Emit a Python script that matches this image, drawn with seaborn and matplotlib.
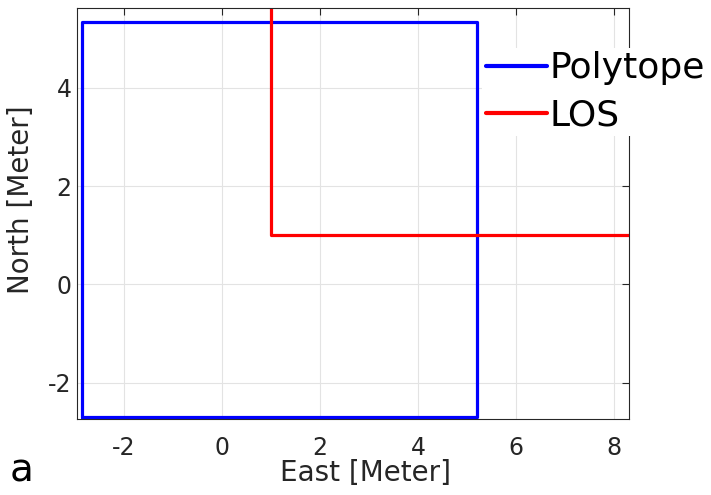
import matplotlib
matplotlib.use("Agg")
import matplotlib.pyplot as plt
import seaborn as sns
import pandas as pd
from matplotlib.lines import Line2D

# Data
polytope_east = [-2.85, 5.2, 5.2, -2.85, -2.85]
polytope_north = [-2.7, -2.7, 5.33, 5.33, -2.7]
los_east = [1.0, 1.0, 8.6]
los_north = [6.0, 1.0, 1.0]
x_ticks = [-2, 0, 2, 4, 6, 8]
y_ticks = [-2, 0, 2, 4]
series_names = ["Polytope", "LOS"]
series_colors = ["#0000ff", "#ff0000"]

sns.set_style("white")
plt.rcParams["font.family"] = ["DejaVu Sans"]
plt.rcParams["axes.unicode_minus"] = False

fig = plt.figure(figsize=(7.11, 4.95), dpi=100)
ax = fig.add_axes([77/711, 1-419/495, (629-77)/711, (419-7.7)/495])

df = pd.concat([
    pd.DataFrame({"East": polytope_east, "North": polytope_north, "name": series_names[0]}),
    pd.DataFrame({"East": los_east, "North": los_north, "name": series_names[1]}),
])

sns.lineplot(data=df, x="East", y="North", hue="name", units="name", estimator=None,
             sort=False, palette=series_colors, hue_order=series_names, linewidth=2.3, ax=ax,
             legend=False)

ax.set_xlim(-2.95, 8.3)
ax.set_ylim(-2.74, 5.63)
ax.set_xticks(x_ticks)
ax.set_yticks(y_ticks)
ax.grid(True, color="#e3e3e3", linewidth=0.8)
ax.set_axisbelow(True)
ax.tick_params(direction="in", length=5, width=0.8, top=True, right=True,
               labelsize=17, colors="#262626")
ax.tick_params(axis="x", pad=12)
ax.tick_params(axis="y", pad=4)
for s in ax.spines.values():
    s.set_color("#262626")
    s.set_linewidth(0.8)
ax.set_xlabel("East [Meter]", fontsize=20, color="#262626")
ax.set_ylabel("North [Meter]", fontsize=20, color="#262626")
ax.xaxis.set_label_coords((366-77)/552, (419-487)/411.3, transform=ax.transAxes)
ax.yaxis.set_label_coords((7-77)/552, (419-200)/411.3, transform=ax.transAxes)
ax.xaxis.label.set_va("bottom")
ax.yaxis.label.set_va("top")

handles = [Line2D([0], [0], color=c, lw=3) for c in series_colors]
leg = fig.legend(handles, series_names, loc="center left",
                 bbox_to_anchor=(482/711, 1-92/495), fontsize=26,
                 frameon=True, facecolor="white", edgecolor="none", framealpha=1,
                 handlelength=1.7, handletextpad=0.08, labelspacing=0.38,
                 borderpad=0.1, borderaxespad=0)
for t in leg.get_texts():
    t.set_color("black")

fig.text(10/711, 1-482/495, "a", fontsize=28, color="black")

fig.savefig("out.png", dpi=100)
